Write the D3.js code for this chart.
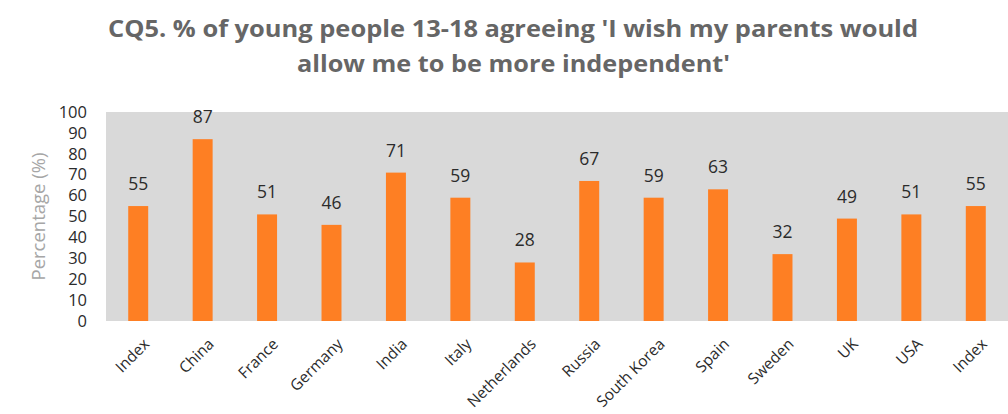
<!DOCTYPE html>
<html><head><meta charset="utf-8">
<script src="https://cdn.jsdelivr.net/npm/d3@7"></script>
<style>body{margin:0;background:#fff}svg{display:block}</style>
</head><body>
<svg id="c" width="1008" height="414"></svg>
<script>
const categories = ["Index","China","France","Germany","India","Italy","Netherlands","Russia","South Korea","Spain","Sweden","UK","USA","Index"];
const values = [55,87,51,46,71,59,28,67,59,63,32,49,51,55];
const yTicks = [0,10,20,30,40,50,60,70,80,90,100];
const titleLines = ["CQ5. % of young people 13-18 agreeing 'I wish my parents would","allow me to be more independent'"];
const yTitle = "Percentage (%)";

const svg = d3.select("#c");
const m = {l:106, r:1008, t:112, b:321};
const x = d3.scaleBand().domain(d3.range(categories.length)).range([m.l, m.r]).paddingInner(0.69).paddingOuter(0.345);
const y = d3.scaleLinear().domain([0,100]).range([m.b, m.t]);

svg.append("rect").attr("x",m.l).attr("y",m.t).attr("width",m.r-m.l).attr("height",m.b-m.t).attr("fill","#d9d9d9");

svg.selectAll("rect.bar").data(values).join("rect").attr("class","bar")
  .attr("x",(d,i)=>x(i)).attr("width",x.bandwidth())
  .attr("y",d=>y(d)).attr("height",d=>y(0)-y(d)).attr("fill","#fe7f23");

svg.selectAll("text.val").data(values).join("text").attr("class","val")
  .attr("x",(d,i)=>x(i)+x.bandwidth()/2).attr("y",d=>y(d)-16)
  .attr("text-anchor","middle").attr("font-family","Open Sans, sans-serif").attr("font-size",17.5)
  .attr("fill","#2b2b2b").text(d=>d);

const ya = svg.append("g").attr("transform",`translate(${m.l-19},0)`)
  .call(d3.axisLeft(y).tickValues(yTicks).tickSize(0).tickPadding(0));
ya.select(".domain").remove();
ya.selectAll("text").attr("font-family","Open Sans, sans-serif").attr("font-size",16.5).attr("fill","#2b2b2b");

const xa = svg.append("g").attr("transform",`translate(0,${m.b})`)
  .call(d3.axisBottom(x).tickFormat(i=>categories[i]).tickSize(0));
xa.select(".domain").remove();
xa.selectAll("text").attr("font-family","Open Sans, sans-serif").attr("font-size",15.5).attr("fill","#2b2b2b")
  .attr("text-anchor","end").attr("dy",0).attr("transform","translate(10,22) rotate(-45)");

svg.append("text").attr("transform",`translate(45,${(m.t+m.b)/2}) rotate(-90)`)
  .attr("text-anchor","middle").attr("font-family","Open Sans, sans-serif").attr("font-size",18.5)
  .attr("fill","#a6a6a6").text(yTitle);

const tl = [[108,918,37],[297,730,72]];
svg.selectAll("text.title").data(titleLines).join("text").attr("class","title")
  .attr("x",(d,i)=>tl[i][0]).attr("y",(d,i)=>tl[i][2])
  .attr("textLength",(d,i)=>tl[i][1]-tl[i][0]).attr("lengthAdjust","spacingAndGlyphs")
  .attr("font-family","Open Sans, sans-serif").attr("font-weight","bold").attr("font-size",23)
  .attr("fill","#666666").text(d=>d);
</script>
</body></html>
